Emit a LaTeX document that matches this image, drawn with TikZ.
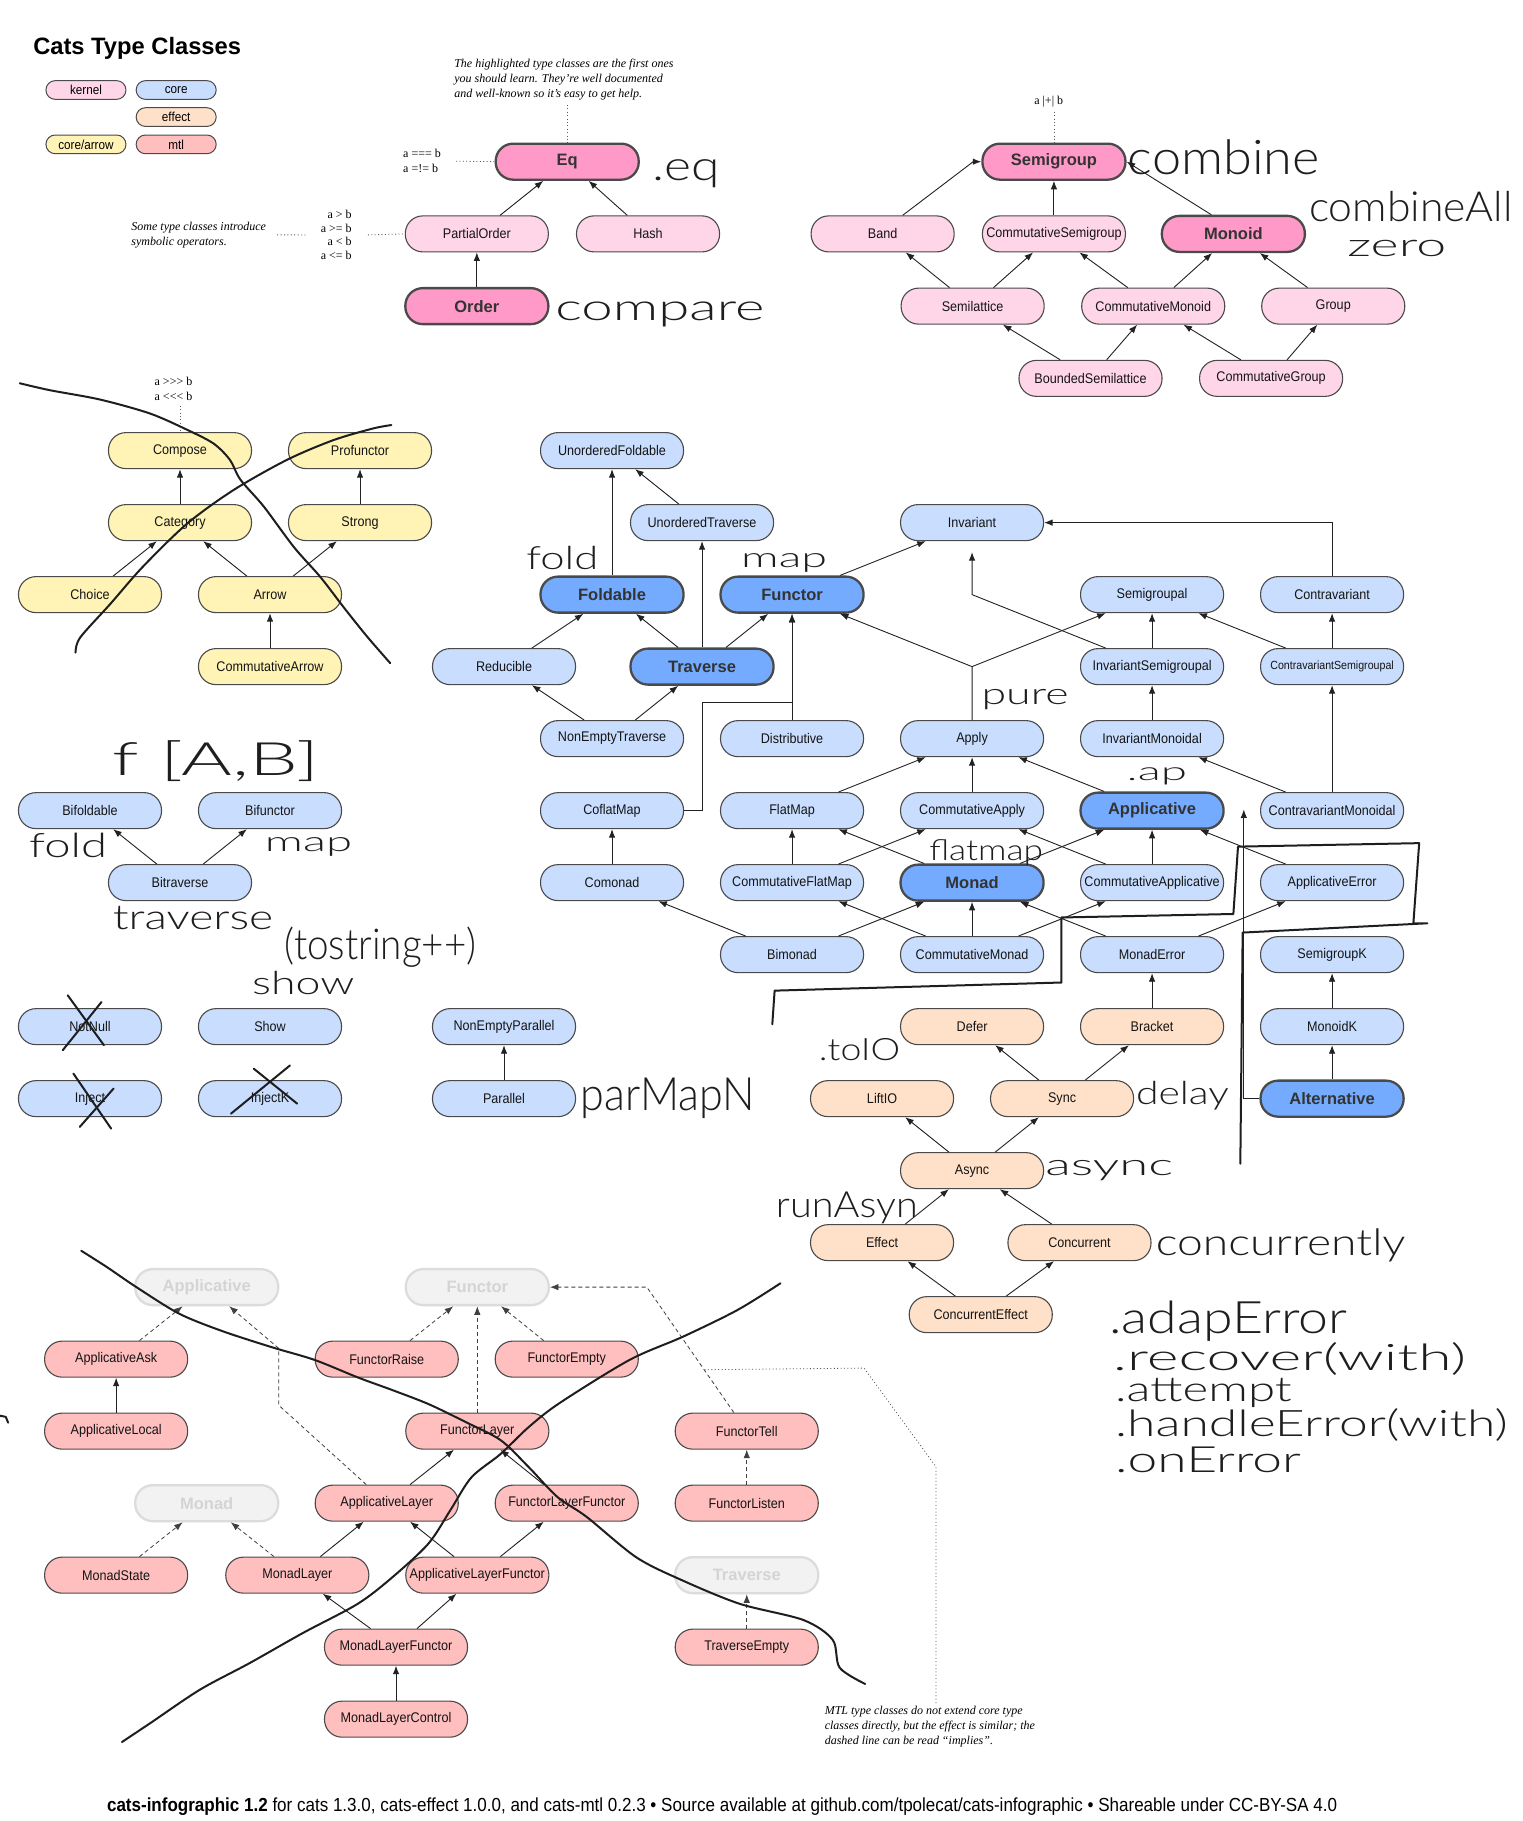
\documentclass[tikz,border=0pt]{standalone}
\usepackage{fontspec}
\usepackage{graphicx}
\setmainfont{Liberation Sans}
\newfontfamily\nodefont{Liberation Sans}[FakeStretch=0.9]
\newfontfamily\boldfont{Liberation Sans}
\newfontfamily\notefont{Liberation Serif}
\IfFontExistsTF{Lato Light}
  {\newfontfamily\handfont{Lato Light}}
  {\IfFontExistsTF{Fira Sans Light}
     {\newfontfamily\handfont{Fira Sans Light}}
     {\newfontfamily\handfont{DejaVu Sans}}}
\usetikzlibrary{arrows.meta}

\definecolor{kern}{HTML}{FFD6E8}
\definecolor{kernhi}{HTML}{FF99C8}
\definecolor{corec}{HTML}{C9DDFF}
\definecolor{corehi}{HTML}{74ABFF}
\definecolor{effc}{HTML}{FFE0C8}
\definecolor{arrc}{HTML}{FFF3B5}
\definecolor{mtlc}{HTML}{FFBFBF}
\definecolor{ghostf}{HTML}{F2F2F2}
\definecolor{ghostd}{HTML}{DCDCDC}
\definecolor{ghostt}{HTML}{D4D4D4}
\definecolor{bord}{HTML}{4A4A4A}
\definecolor{edgec}{HTML}{222222}
\definecolor{handc}{HTML}{1E1E1E}

\newdimen\du \du=1.161pt
% handwritten note: name, base-west position, width, height, text
\newcommand{\hw}[5]{\node[handtext] (#1) at (#2) {\resizebox{#3\du}{#4\du}{\handfont #5}};}

\tikzset{
  tc/.style={draw=bord, line width=1.1pt, rounded corners=17.5pt, minimum width=143pt,
    minimum height=36pt, inner sep=0pt, text=black!92,
    font=\nodefont\fontsize{14}{16}\selectfont},
  hi/.style={line width=2.3pt, draw=bord, text=black!80,
    font=\boldfont\bfseries\fontsize{16.5}{19}\selectfont},
  kn/.style={tc, fill=kern},
  knh/.style={kn, hi, fill=kernhi},
  cr/.style={tc, fill=corec},
  crh/.style={cr, hi, fill=corehi},
  ef/.style={tc, fill=effc},
  ar/.style={tc, fill=arrc},
  mt/.style={tc, fill=mtlc},
  gh/.style={tc, hi, fill=ghostf, draw=ghostd, text=ghostt},
  leg/.style={draw=bord, line width=1pt, rounded corners=9.3pt, minimum width=80pt,
    minimum height=18.7pt, inner sep=0pt, font=\nodefont\fontsize{13}{15}\selectfont},
  ed/.style={draw=edgec, line width=0.9pt, -{Latex[length=8.5pt,width=6.5pt]}},
  implies/.style={ed, draw=black!75, line width=0.8pt, dash pattern=on 4pt off 3pt},
  dotl/.style={draw=black!65, line width=0.8pt, dash pattern=on 1pt off 2.4pt},
  note/.style={inner sep=0pt, align=left, font=\notefont\itshape\fontsize{12}{14.8}\selectfont},
  ops/.style={inner sep=0pt, font=\notefont\fontsize{12}{15}\selectfont},
  handtext/.style={anchor=base west, inner sep=0pt, text=handc},
  hand/.style={draw=handc, line width=2pt, line cap=round, line join=round},
}

\begin{document}
\begin{tikzpicture}[x=1.161pt, y=-1.161pt]
\fill[white] (0,0) rectangle (1311,1568);
\useasboundingbox (0,0) rectangle (1311,1568);

% ---------- title and legend ----------
\node[anchor=base west, inner sep=0pt, font=\boldfont\bfseries\fontsize{23.7}{27}\selectfont]
  (title) at (28.5,46.8) {Cats Type Classes};
\node[leg, fill=kern]  (lgKernel) at (74,77.5)    {kernel};
\node[leg, fill=corec] (lgCore)   at (151.7,77.5) {core};
\node[leg, fill=effc]  (lgEffect) at (151.7,100.8){effect};
\node[leg, fill=arrc]  (lgArrow)  at (74,124.3)   {core/arrow};
\node[leg, fill=mtlc]  (lgMtl)    at (151.7,124.3){mtl};

% ---------- kernel ----------
\node[knh] (Eq)                   at (488.4,139.2) {Eq};
\node[kn]  (PartialOrder)         at (410.6,201.4) {PartialOrder};
\node[kn]  (Hash)                 at (558,201.4)   {Hash};
\node[knh] (Order)                at (410.6,263.6) {Order};
\node[knh] (Semigroup)            at (907.5,139.2) {Semigroup};
\node[kn]  (Band)                 at (760,201.4)   {Band};
\node[kn]  (CommutativeSemigroup) at (907.5,201.4) {CommutativeSemigroup};
\node[knh] (Monoid)               at (1062,201.4)  {Monoid};
\node[kn]  (Semilattice)          at (837.5,263.6) {Semilattice};
\node[kn]  (CommutativeMonoid)    at (993,263.6)   {CommutativeMonoid};
\node[kn]  (Group)                at (1148,263.6)  {Group};
\node[kn]  (BoundedSemilattice)   at (939,325.8)   {BoundedSemilattice};
\node[kn]  (CommutativeGroup)     at (1094.5,325.8){CommutativeGroup};

\draw[ed] (PartialOrder) -- (Eq);
\draw[ed] (Hash) -- (Eq);
\draw[ed] (Order) -- (PartialOrder);
\draw[ed] ([xshift=20pt]Band.north) -- ([xshift=-8pt]Semigroup.west) -- (Semigroup.west);
\draw[ed] (CommutativeSemigroup) -- (Semigroup);
\draw[ed] ([xshift=-22pt]Monoid.north) -- (Semigroup.east);
\draw[ed] (Semilattice) -- (Band);
\draw[ed] (Semilattice) -- (CommutativeSemigroup);
\draw[ed] (CommutativeMonoid) -- (CommutativeSemigroup);
\draw[ed] (CommutativeMonoid) -- (Monoid);
\draw[ed] (Group) -- (Monoid);
\draw[ed] (BoundedSemilattice) -- (Semilattice);
\draw[ed] (BoundedSemilattice) -- (CommutativeMonoid);
\draw[ed] (CommutativeGroup) -- (CommutativeMonoid);
\draw[ed] (CommutativeGroup) -- (Group);

% operator notes
\node[note, anchor=north west] (hlNote) at (391,51)
  {The highlighted type classes are the first ones\\you should learn. They’re well documented\\and well-known so it’s easy to get help.};
\draw[dotl] (Eq.north |- hlNote.south) ++(0,4) -- (Eq.north);
\node[ops, anchor=north west, align=left] (opsEq) at (347,128.5) {a === b\\a =!= b};
\draw[dotl] ([xshift=15pt]opsEq.east) -- (Eq.west);
\node[note, anchor=north west] (symNote) at (113,191) {Some type classes introduce\\symbolic operators.};
\node[ops, anchor=north east, align=right, font=\notefont\fontsize{12}{13.9}\selectfont]
  (opsPO) at (303,180.5) {a > b\\a >= b\\a < b\\a <= b};
\draw[dotl] ([xshift=11pt]symNote.east) -- ([xshift=-13pt]opsPO.west);
\draw[dotl] ([xshift=16pt]opsPO.east) -- (PartialOrder.west);
\node[ops, anchor=north] (opsSemi) at (903,83) {a |+| b};
\draw[dotl] ([yshift=-4pt]Semigroup.north |- opsSemi.south) -- (Semigroup.north);

% ---------- core / arrow ----------
\node[ar] (Compose)          at (155,388)   {Compose};
\node[ar] (Profunctor)       at (310,388)   {Profunctor};
\node[ar] (Category)         at (155,450)   {Category};
\node[ar] (Strong)           at (310,450)   {Strong};
\node[ar] (Choice)           at (77.5,512)  {Choice};
\node[ar] (Arrow)            at (232.5,512) {Arrow};
\node[ar] (CommutativeArrow) at (232.5,574) {CommutativeArrow};

\draw[ed] (Category) -- (Compose);
\draw[ed] (Strong) -- (Profunctor);
\draw[ed] (Choice) -- (Category);
\draw[ed] (Arrow) -- (Category);
\draw[ed] (Arrow) -- (Strong);
\draw[ed] (CommutativeArrow) -- (Arrow);

\node[ops, anchor=north west, align=left] (opsArrow) at (133,324.5) {a >>> b\\a <<< b};
\draw[dotl] ([yshift=-5pt]Compose.north |- opsArrow.south) -- (Compose.north);

% ---------- core ----------
\node[cr]  (UnorderedFoldable)        at (527,388)    {UnorderedFoldable};
\node[cr]  (UnorderedTraverse)        at (604.5,450)  {UnorderedTraverse};
\node[cr]  (Invariant)                at (837,450)    {Invariant};
\node[crh] (Foldable)                 at (527,512)    {Foldable};
\node[crh] (Functor)                  at (682,512)    {Functor};
\node[cr]  (Semigroupal)              at (992,512)    {Semigroupal};
\node[cr]  (Contravariant)            at (1147,512)   {Contravariant};
\node[cr]  (Reducible)                at (434,574)    {Reducible};
\node[crh] (Traverse)                 at (604.5,574)  {Traverse};
\node[cr]  (InvariantSemigroupal)     at (992,574)    {InvariantSemigroupal};
\node[cr, font=\nodefont\fontsize{11.8}{14}\selectfont]
           (ContravariantSemigroupal) at (1147,574)   {ContravariantSemigroupal};
\node[cr]  (NonEmptyTraverse)         at (527,636)    {NonEmptyTraverse};
\node[cr]  (Distributive)             at (682,636)    {Distributive};
\node[cr]  (Apply)                    at (837,636)    {Apply};
\node[cr]  (InvariantMonoidal)        at (992,636)    {InvariantMonoidal};
\node[cr]  (CoflatMap)                at (527,698)    {CoflatMap};
\node[cr]  (FlatMap)                  at (682,698)    {FlatMap};
\node[cr]  (CommutativeApply)         at (837,698)    {CommutativeApply};
\node[crh] (Applicative)              at (992,698)    {Applicative};
\node[cr]  (ContravariantMonoidal)    at (1147,698)   {ContravariantMonoidal};
\node[cr]  (Comonad)                  at (527,760)    {Comonad};
\node[cr]  (CommutativeFlatMap)       at (682,760)    {CommutativeFlatMap};
\node[crh] (Monad)                    at (837,760)    {Monad};
\node[cr]  (CommutativeApplicative)   at (992,760)    {CommutativeApplicative};
\node[cr]  (ApplicativeError)         at (1147,760)   {ApplicativeError};
\node[cr]  (Bimonad)                  at (682,822)    {Bimonad};
\node[cr]  (CommutativeMonad)         at (837,822)    {CommutativeMonad};
\node[cr]  (MonadError)               at (992,822)    {MonadError};
\node[cr]  (SemigroupK)               at (1147,822)   {SemigroupK};
\node[cr]  (MonoidK)                  at (1147,884)   {MonoidK};
\node[crh] (Alternative)              at (1147,946)   {Alternative};

\node[cr] (Bifoldable)       at (77.5,698)  {Bifoldable};
\node[cr] (Bifunctor)        at (232.5,698) {Bifunctor};
\node[cr] (Bitraverse)       at (155,760)   {Bitraverse};
\node[cr] (NotNull)          at (77.5,884)  {NotNull};
\node[cr] (Show)             at (232.5,884) {Show};
\node[cr] (Inject)           at (77.5,946)  {Inject};
\node[cr] (InjectK)          at (232.5,946) {InjectK};
\node[cr] (NonEmptyParallel) at (434,884)   {NonEmptyParallel};
\node[cr] (Parallel)         at (434,946)   {Parallel};

\coordinate (cfBend) at (604.5,604.5);
\coordinate (applyJ) at (837,574);
\coordinate (invJ)   at (837,512);
\coordinate (altUp)  at (1071,697);

\draw[ed] (Foldable) -- (UnorderedFoldable);
\draw[ed] (UnorderedTraverse) -- (UnorderedFoldable);
\draw[ed] (Traverse) -- (UnorderedTraverse);
\draw[ed] (Traverse) -- (Foldable);
\draw[ed] (Traverse) -- (Functor);
\draw[ed] (Reducible) -- (Foldable);
\draw[ed] (NonEmptyTraverse) -- (Reducible);
\draw[ed] (NonEmptyTraverse) -- (Traverse);
\draw[ed] (Distributive) -- (Functor);
\draw[ed] (CoflatMap.east) -| (cfBend) -| (Functor.south);
\draw[ed] (Functor) -- (Invariant);
\draw[ed] (Apply.north) -- (applyJ) -- (Functor);
\draw[ed] (applyJ) -- (Semigroupal);
\draw[ed] (InvariantSemigroupal) -- (Semigroupal);
\draw[ed, shorten >=11pt] (InvariantSemigroupal) -- (invJ) -- (Invariant.south);
\draw[ed] (ContravariantSemigroupal) -- (Semigroupal);
\draw[ed] (ContravariantSemigroupal) -- (Contravariant);
\draw[ed] (Contravariant.north) |- (Invariant.east);
\draw[ed] (InvariantMonoidal) -- (InvariantSemigroupal);
\draw[ed] (ContravariantMonoidal) -- (ContravariantSemigroupal);
\draw[ed] (ContravariantMonoidal) -- (InvariantMonoidal);
\draw[ed] (FlatMap) -- (Apply);
\draw[ed] (CommutativeApply) -- (Apply);
\draw[ed] (Applicative) -- (Apply);
\draw[ed] (Comonad) -- (CoflatMap);
\draw[ed] (CommutativeFlatMap) -- (FlatMap);
\draw[ed] (CommutativeFlatMap) -- (CommutativeApply);
\draw[ed] (Monad) -- (FlatMap);
\draw[ed] (Monad) -- (Applicative);
\draw[ed] (CommutativeApplicative) -- (CommutativeApply);
\draw[ed] (CommutativeApplicative) -- (Applicative);
\draw[ed] (ApplicativeError) -- (Applicative);
\draw[ed] (Bimonad) -- (Comonad);
\draw[ed] (Bimonad) -- (Monad);
\draw[ed] (CommutativeMonad) -- (CommutativeFlatMap);
\draw[ed] (CommutativeMonad) -- (Monad);
\draw[ed] (CommutativeMonad) -- (CommutativeApplicative);
\draw[ed] (MonadError) -- (Monad);
\draw[ed] (MonadError) -- (ApplicativeError);
\draw[ed] (MonoidK) -- (SemigroupK);
\draw[ed] (Alternative) -- (MonoidK);
\draw[ed] (Alternative.west) -| (altUp);

\draw[ed] (Bitraverse) -- (Bifoldable);
\draw[ed] (Bitraverse) -- (Bifunctor);
\draw[ed] (Parallel) -- (NonEmptyParallel);

% ---------- effect ----------
\node[ef] (Defer)            at (837,884)    {Defer};
\node[ef] (Bracket)          at (992,884)    {Bracket};
\node[ef] (LiftIO)           at (759.5,946)  {LiftIO};
\node[ef] (Sync)             at (914.5,946)  {Sync};
\node[ef] (Async)            at (837,1008)   {Async};
\node[ef] (Effect)           at (759.5,1070) {Effect};
\node[ef] (Concurrent)       at (929.5,1070) {Concurrent};
\node[ef] (ConcurrentEffect) at (844.5,1132) {ConcurrentEffect};

\draw[ed] (Bracket) -- (MonadError);
\draw[ed] (Sync) -- (Defer);
\draw[ed] (Sync) -- (Bracket);
\draw[ed] (Async) -- (LiftIO);
\draw[ed] (Async) -- (Sync);
\draw[ed] (Effect) -- (Async);
\draw[ed] (Concurrent) -- (Async);
\draw[ed] (ConcurrentEffect) -- (Effect);
\draw[ed] (ConcurrentEffect) -- (Concurrent);

% ---------- mtl ----------
\node[gh] (ApplicativeG)            at (178,1108.3)  {Applicative};
\node[gh] (FunctorG)                at (411,1108.3)  {Functor};
\node[mt] (ApplicativeAsk)          at (100,1170.3)  {ApplicativeAsk};
\node[mt] (FunctorRaise)            at (333,1170.3)  {FunctorRaise};
\node[mt] (FunctorEmpty)            at (488,1170.3)  {FunctorEmpty};
\node[mt] (ApplicativeLocal)        at (100,1232.3)  {ApplicativeLocal};
\node[mt] (FunctorLayer)            at (411,1232.3)  {FunctorLayer};
\node[mt] (FunctorTell)             at (643,1232.3)  {FunctorTell};
\node[gh] (MonadG)                  at (178,1294.3)  {Monad};
\node[mt] (ApplicativeLayer)        at (333,1294.3)  {ApplicativeLayer};
\node[mt] (FunctorLayerFunctor)     at (488,1294.3)  {FunctorLayerFunctor};
\node[mt] (FunctorListen)           at (643,1294.3)  {FunctorListen};
\node[mt] (MonadState)              at (100,1356.3)  {MonadState};
\node[mt] (MonadLayer)              at (256,1356.3)  {MonadLayer};
\node[mt] (ApplicativeLayerFunctor) at (411,1356.3)  {ApplicativeLayerFunctor};
\node[gh] (TraverseG)               at (643,1356.3)  {Traverse};
\node[mt] (MonadLayerFunctor)       at (341,1418.3)  {MonadLayerFunctor};
\node[mt] (TraverseEmpty)           at (643,1418.3)  {TraverseEmpty};
\node[mt] (MonadLayerControl)       at (341,1480.3)  {MonadLayerControl};

\coordinate (alBend1) at (240,1210);
\coordinate (alBend2) at (240,1161);
\coordinate (tellBend) at (557,1108.3);

\draw[implies] (ApplicativeAsk) -- (ApplicativeG);
\draw[ed] (ApplicativeLocal) -- (ApplicativeAsk);
\draw[implies] (ApplicativeLayer) -- (alBend1) -- (alBend2) -- (ApplicativeG);
\draw[implies] (FunctorRaise) -- (FunctorG);
\draw[implies] (FunctorLayer) -- (FunctorG);
\draw[implies] (FunctorEmpty) -- (FunctorG);
\draw[implies] (FunctorTell) -- (tellBend) -- (FunctorG.east);
\draw[implies] (FunctorListen) -- (FunctorTell);
\draw[ed] (ApplicativeLayer) -- (FunctorLayer);
\draw[ed] (FunctorLayerFunctor) -- (FunctorLayer);
\draw[implies] (MonadState) -- (MonadG);
\draw[implies] (MonadLayer) -- (MonadG);
\draw[ed] (MonadLayer) -- (ApplicativeLayer);
\draw[ed] (ApplicativeLayerFunctor) -- (ApplicativeLayer);
\draw[ed] (ApplicativeLayerFunctor) -- (FunctorLayerFunctor);
\draw[ed] (MonadLayerFunctor) -- (MonadLayer);
\draw[ed] (MonadLayerFunctor) -- (ApplicativeLayerFunctor);
\draw[ed] (MonadLayerControl) -- (MonadLayerFunctor);
\draw[implies] (TraverseEmpty) -- (TraverseG);

\node[note, anchor=north west] (mtlNote) at (710,1469)
  {MTL type classes do not extend core type\\classes directly, but the effect is similar; the\\dashed line can be read “implies”.};
\coordinate (mtlDot1) at (806,1263);
\coordinate (mtlDot2) at (744,1178);
\coordinate (mtlDot3) at (607,1179.4);
\draw[dotl] ([yshift=3pt]mtlNote.north -| mtlDot1) -- (mtlDot1) -- (mtlDot2) -- (mtlDot3);

% ---------- footer ----------
\node[anchor=base west, inner sep=0pt, font=\nodefont\fontsize{18.9}{21}\selectfont] (footer) at (92,1560)
  {\textbf{cats-infographic 1.2} for cats 1.3.0, cats-effect 1.0.0, and cats-mtl 0.2.3 • Source available at github.com/tpolecat/cats-infographic • Shareable under CC-BY-SA 4.0};

% ---------- handwritten notes ----------
\hw{hEq}{562,155}{58}{18}{.eq}
\hw{hCompare}{478,276}{180}{16}{compare}
\hw{hCombine}{971,150}{165}{30}{combine}
\hw{hCombineAll}{1127,191}{175}{26}{combineAll}
\hw{hZero}{1160,221}{85}{14}{zero}
\hw{hFold}{453,490}{62}{20}{fold}
\hw{hMap}{638,489}{74}{12}{map}
\hw{hPure}{845,607}{75}{13}{pure}
\hw{hAp}{970,672}{52}{11}{.ap}
\hw{hFlatmap}{800,741}{98}{18}{flatmap}
\hw{hFAB}{97,668}{178}{30}{f [A,B]}
\hw{hBiFold}{25,738}{67}{21}{fold}
\hw{hBiMap}{228,733}{75}{12}{map}
\hw{hTraverse}{97,800}{138}{20}{traverse}
\hw{hToString}{245,826}{165}{28}{(tostring++)}
\hw{hShow}{217,856}{88}{20}{show}
\hw{hParMapN}{500,956}{150}{28}{parMapN}
\hw{hToIO}{705,913}{70}{19}{.toIO}
\hw{hDelay}{978,951}{80}{20}{delay}
\hw{hAsync}{900,1012}{110}{13}{async}
\hw{hRunAsync}{668,1048}{122}{22}{runAsyn}
\hw{hConcurrently}{995,1081}{215}{23}{concurrently}
\hw{hAdaptError}{955,1148}{205}{28}{.adapError}
\hw{hRecover}{958,1180}{304}{24}{.recover(with)}
\hw{hAttempt}{960,1207}{152}{20}{.attempt}
\hw{hHandleError}{960,1237}{338}{24}{.handleError(with)}
\hw{hOnError}{960,1268}{160}{22}{.onError}

% ---------- handwritten strokes ----------
% over the arrow classes
\draw[hand] plot[smooth] coordinates {(17,330) (43,336) (86,344) (129,356) (161,370) (184,382)
  (198,396) (207,413) (227,436) (253,471) (276,497) (296,523) (316,548) (336,571)};
\draw[hand] plot[smooth] coordinates {(65,562) (69,549) (95,520) (123,488) (161,451) (201,422)
  (247,396) (287,379) (321,369) (337,366)};
% crossed-out classes
\draw[hand] (58.3,857) -- (89.5,900);   \draw[hand] (87.4,862.8) -- (54,904.3);
\draw[hand] (63.2,924.4) -- (95.7,971.8); \draw[hand] (97.8,937.3) -- (68.7,970.3);
\draw[hand] (218.5,920.2) -- (255.9,950.3); \draw[hand] (249.7,917.4) -- (198.9,958.9);
% outline around the error classes
\draw[hand] (665,882) -- (667,853) -- (914,846) -- (914,790) -- (1062,787) -- (1066,729)
  -- (1222,726) -- (1217,795) -- (1229,795) -- (1070,803) -- (1068,1002);
% over the mtl classes
\draw[hand] plot[smooth] coordinates {(70,1077) (92,1091) (117,1108) (154,1131) (191,1146)
  (234,1160) (271,1171) (308,1186) (338,1197) (369,1209) (400,1224) (431,1240) (455,1263)
  (480,1289) (505,1306) (548,1341) (588,1361) (637,1381) (692,1395) (717,1412) (723,1436) (745,1450)};
\draw[hand] plot[smooth] coordinates {(105,1500) (129,1484) (172,1455) (215,1432) (261,1406)
  (308,1381) (338,1358) (369,1329) (388,1300) (406,1272) (431,1252) (455,1229) (482,1208)
  (542,1171) (588,1151) (635,1128) (672,1105)};
\draw[hand] (0,1219) -- (5,1220) -- (7,1225);
\end{tikzpicture}
\end{document}
